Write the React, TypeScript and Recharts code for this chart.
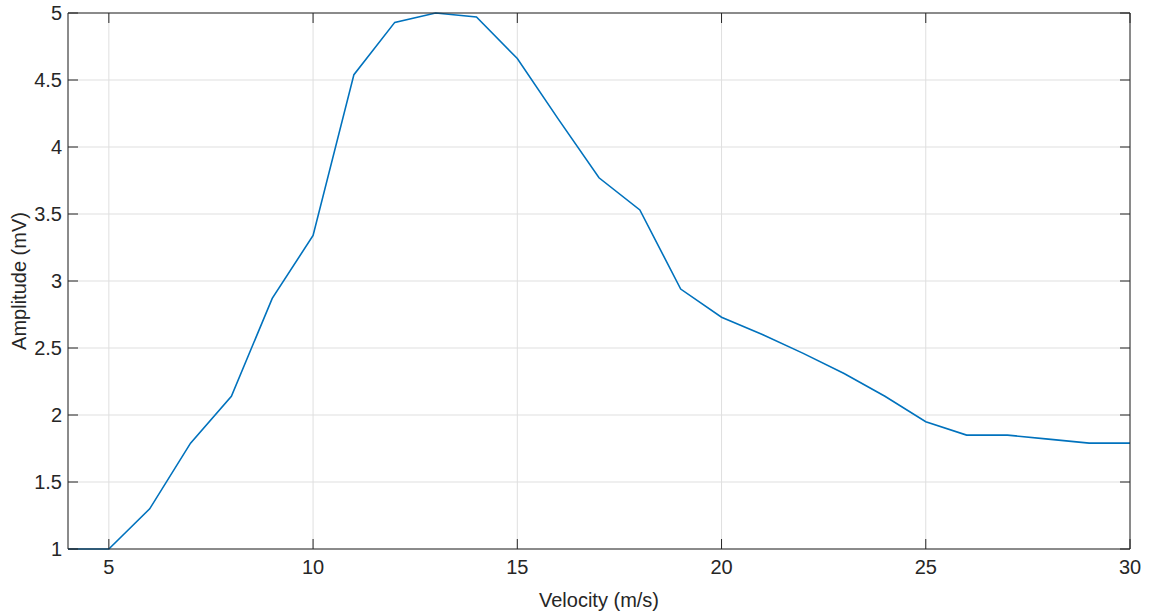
import React from 'react';
import { LineChart, Line, XAxis, YAxis, CartesianGrid, Label } from 'recharts';

const velocity = [4, 5, 6, 7, 8, 9, 10, 11, 12, 13, 14, 15, 16, 17, 18, 19, 20, 21, 22, 23, 24, 25, 26, 27, 28, 29, 30];
const amplitude = [1, 1, 1.3, 1.79, 2.14, 2.87, 3.34, 4.54, 4.93, 5.0, 4.97, 4.66, 4.21, 3.77, 3.53, 2.94, 2.73, 2.6, 2.46, 2.31, 2.14, 1.95, 1.85, 1.85, 1.82, 1.79, 1.79];
const xTicks = [5, 10, 15, 20, 25, 30];
const yTicks = [1, 1.5, 2, 2.5, 3, 3.5, 4, 4.5, 5];

const data = velocity.map((v, i) => ({ v, a: amplitude[i] }));

const FONT = '"Liberation Sans", Arial, Helvetica, sans-serif';
const FS = 20;
const AX = '#262626';
const TL = 10;

const BottomTick = (p: any) => (
  <g>
    <line x1={p.x} x2={p.x} y1={p.y} y2={p.y - TL} stroke={AX} strokeWidth={1} />
    <text x={p.x} y={p.y + 25} textAnchor="middle" fill={AX} fontSize={FS} fontFamily={FONT}>
      {String(p.payload.value)}
    </text>
  </g>
);
const TopTick = (p: any) => (
  <line x1={p.x} x2={p.x} y1={p.y} y2={p.y + TL} stroke={AX} strokeWidth={1} />
);
const LeftTick = (p: any) => (
  <g>
    <line x1={p.x} x2={p.x + TL} y1={p.y} y2={p.y} stroke={AX} strokeWidth={1} />
    <text x={p.x - 6} y={p.y + 7} textAnchor="end" fill={AX} fontSize={FS} fontFamily={FONT}>
      {String(p.payload.value)}
    </text>
  </g>
);
const RightTick = (p: any) => (
  <line x1={p.x} x2={p.x - TL} y1={p.y} y2={p.y} stroke={AX} strokeWidth={1} />
);

export default function App() {
  return (
    <div style={{ position: 'absolute', left: 0, top: 0 }}>
      <LineChart width={1154} height={615} data={data} margin={{ top: 12, right: 23, left: 0, bottom: 0 }}>
        <CartesianGrid stroke="#dfdfdf" strokeWidth={1} />
        <XAxis
          dataKey="v"
          type="number"
          domain={[4, 30]}
          ticks={xTicks}
          height={66}
          tickSize={0}
          tickMargin={0}
          tickLine={false}
          axisLine={{ stroke: AX }}
          tick={<BottomTick />}
          interval={0}
        >
          <Label
            content={(props: any) => {
              const vb = props.viewBox;
              return (
                <text x={vb.x + vb.width / 2} y={vb.y + 58} textAnchor="middle" fill={AX} fontSize={FS} fontFamily={FONT}>
                  Velocity (m/s)
                </text>
              );
            }}
          />
        </XAxis>
        <XAxis
          xAxisId="top"
          orientation="top"
          dataKey="v"
          type="number"
          domain={[4, 30]}
          allowDataOverflow
          ticks={xTicks}
          height={1}
          tickSize={0}
          tickMargin={0}
          tickLine={false}
          axisLine={{ stroke: AX }}
          tick={<TopTick />}
          interval={0}
        />
        <YAxis
          type="number"
          domain={[1, 5]}
          ticks={yTicks}
          width={68}
          tickSize={0}
          tickMargin={0}
          tickLine={false}
          axisLine={{ stroke: AX }}
          tick={<LeftTick />}
          interval={0}
        >
          <Label
            content={(props: any) => {
              const vb = props.viewBox;
              const cx = vb.x + 19;
              const cy = vb.y + vb.height / 2;
              return (
                <text
                  x={cx}
                  y={cy}
                  transform={`rotate(-90 ${cx} ${cy})`}
                  textAnchor="middle"
                  dominantBaseline="central"
                  fill={AX}
                  fontSize={FS}
                  fontFamily={FONT}
                >
                  Amplitude (mV)
                </text>
              );
            }}
          />
        </YAxis>
        <YAxis
          yAxisId="right"
          orientation="right"
          type="number"
          domain={[1, 5]}
          allowDataOverflow
          ticks={yTicks}
          width={1}
          tickSize={0}
          tickMargin={0}
          tickLine={false}
          axisLine={{ stroke: AX }}
          tick={<RightTick />}
          interval={0}
        />
        <Line
          xAxisId="top"
          yAxisId="right"
          dataKey="a"
          type="linear"
          stroke="none"
          strokeWidth={0}
          dot={false}
          activeDot={false}
          legendType="none"
          isAnimationActive={false}
        />
        <Line
          dataKey="a"
          type="linear"
          stroke="#0072BD"
          strokeWidth={1.6}
          dot={false}
          activeDot={false}
          isAnimationActive={false}
        />
      </LineChart>
    </div>
  );
}
